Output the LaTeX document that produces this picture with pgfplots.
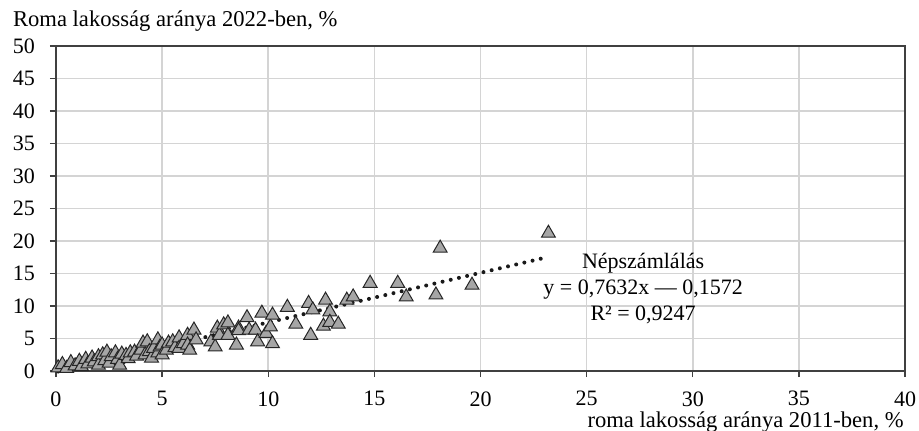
\documentclass[border=0pt]{standalone}
\usepackage{pgfplots}
\pgfplotsset{compat=1.18}
\usepackage{fontspec}
\setmainfont{Liberation Serif}
\definecolor{gridc}{HTML}{D4D4D4}
\definecolor{axc}{HTML}{404040}
\definecolor{markc}{HTML}{A6A6A6}
\begin{document}
\begin{tikzpicture}
\path[use as bounding box] (-28pt,-29.5pt) rectangle (431.5pt,185.5pt);
\begin{axis}[
  scale only axis, width=424.5pt, height=162.5pt,
  xmin=0, xmax=40, ymin=0, ymax=50,
  xtick={0,5,...,40}, ytick={0,5,...,50},
  grid=major, major grid style={gridc, line width=0.8pt},
  axis line style={axc, line width=0.9pt},
  tick style={axc, line width=0.7pt},
  tick align=outside, major tick length=3pt,
  xtick pos=bottom, ytick pos=left,
  tick label style={font=\fontsize{11}{13}\selectfont},
  /pgf/number format/assume math mode=true,
  xticklabel style={inner sep=1pt, yshift=-6pt},
  yticklabel style={xshift=-4pt},
  clip=false,
]
\addplot[only marks, mark=triangle*, mark size=4pt,
  mark options={fill=markc, draw=black!85, line width=0.5pt}] coordinates {
(0.1,0.5) (0.3,1.0) (0.5,0.4) (0.7,1.3) (0.9,0.8) (1.1,1.5) (1.2,0.7)
(1.4,1.8) (1.5,1.1) (1.7,2.0) (1.8,1.4) (2.0,2.2) (2.0,0.9) (2.2,2.5)
(2.3,1.6) (2.4,2.9) (2.5,1.2) (2.6,2.2) (2.8,2.8) (2.9,1.8) (3.0,0.9)
(3.1,2.6) (3.3,2.4) (3.4,1.9) (3.5,2.8) (3.7,2.9) (3.8,2.3) (4.0,3.2)
(4.1,4.3) (4.2,2.5) (4.3,4.5) (4.4,3.0) (4.5,2.0) (4.6,3.5) (4.8,4.8)
(4.8,2.8) (4.9,3.7) (5.0,4.0) (5.0,2.5) (5.2,3.2) (5.3,4.3) (5.5,4.5)
(5.6,3.6) (5.8,5.1) (5.8,3.5) (6.0,4.2) (6.2,5.5) (6.2,4.0) (6.3,3.2)
(6.5,6.3) (6.6,4.8) (7.3,4.5) (7.5,3.7) (7.6,6.6) (7.7,5.5) (7.9,7.1)
(8.1,7.4) (8.1,5.5) (8.5,4.0) (8.6,6.6) (8.6,6.2) (9.0,8.2) (9.1,6.3)
(9.4,6.3) (9.5,4.5) (9.7,8.9) (9.9,5.8) (10.1,6.8) (10.2,4.2) (10.2,8.6)
(10.9,9.8) (11.3,7.2) (11.9,10.4) (12.0,5.5) (12.1,9.4) (12.7,10.9)
(12.6,6.9) (12.9,9.1) (12.9,7.5) (13.3,7.2) (13.7,10.9) (14.0,11.4)
(14.8,13.5) (16.1,13.5) (16.5,11.4) (17.9,11.7) (18.1,18.9) (19.6,13.2)
(23.2,21.2)
};
\addplot[black!90, line width=2pt, dash pattern=on 0pt off 4.2pt, line cap=round]
  coordinates {(0.1,-0.081) (23.2,17.549)};
\node[anchor=base, font=\fontsize{11}{13}\selectfont] at (axis cs:27.66,15.7) {Népszámlálás};
\node[anchor=base, font=\fontsize{11}{13}\selectfont] at (axis cs:27.66,11.7) {y = 0,7632x --- 0,1572};
\node[anchor=base, font=\fontsize{11}{13}\selectfont] at (axis cs:27.66,7.7) {R² = 0,9247};
\node[anchor=base west, font=\fontsize{11.3}{13}\selectfont, xshift=-25pt, yshift=10pt] at (rel axis cs:0,1) {Roma lakosság aránya 2022-ben, \%};
\node[anchor=base east, inner sep=0pt, font=\fontsize{11.3}{13}\selectfont, xshift=-0.5pt, yshift=-28pt] at (rel axis cs:1,0) {roma lakosság aránya 2011-ben, \%};
\end{axis}
\end{tikzpicture}
\end{document}
